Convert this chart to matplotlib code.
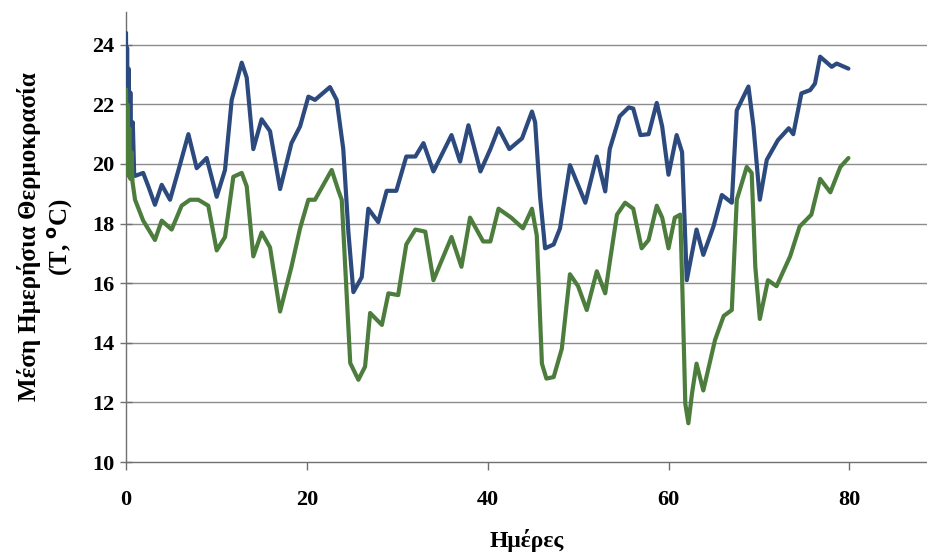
import matplotlib
matplotlib.use('Agg')
import matplotlib.pyplot as plt

# day, value
blueDays = [0, 0.06, 0.12, 0.2, 0.28, 0.38, 0.48, 0.6, 0.75, 0.9, 1.0, 1.9, 2.47, 3.2, 3.95, 4.87, 5.9, 6.9,
            7.82, 8.92, 10.03, 10.95, 11.69, 12.8, 13.35, 14.08, 15.0, 15.93, 17.04, 18.3,
            19.25, 20.17, 20.9, 22.56, 23.3, 24.03, 24.6, 25.15, 26.07, 26.8, 27.9, 28.83,
            29.9, 31.0, 32.0, 32.9, 34.0, 36.0, 36.95, 37.87, 39.2, 40.3, 41.2, 42.4,
            43.8, 44.9, 45.25, 45.8, 46.35, 47.3, 48.0, 49.1, 50.8, 52.07, 53.0, 53.5,
            54.6, 55.6, 56.1, 56.9, 57.8, 58.7, 59.3, 60.0, 60.9, 61.5, 62.02, 63.1,
            63.85, 64.97, 65.9, 67.0, 67.55, 68.84, 69.4, 70.1, 70.87, 72.1, 73.3, 73.8,
            74.7, 75.67, 76.2, 76.77, 78.05, 78.6, 79.9]
blueTemp = [24.4, 20.4, 23.9, 20.2, 23.2, 20.0, 22.4, 19.8, 21.4, 19.7, 19.6, 19.7, 19.25, 18.63, 19.3, 18.8, 19.9, 21.0,
            19.86, 20.2, 18.9, 19.8, 22.15, 23.4, 22.9, 20.5, 21.5, 21.1, 19.16, 20.7,
            21.26, 22.26, 22.15, 22.58, 22.15, 20.5, 17.7, 15.7, 16.2, 18.5, 18.05, 19.1,
            19.1, 20.25, 20.25, 20.7, 19.75, 20.97, 20.08, 21.3, 19.75, 20.5, 21.2, 20.5,
            20.86, 21.76, 21.4, 18.9, 17.17, 17.3, 17.84, 19.96, 18.7, 20.25, 19.08, 20.5,
            21.6, 21.9, 21.86, 20.97, 21.0, 22.05, 21.26, 19.64, 20.97, 20.4, 16.1, 17.8,
            16.95, 17.9, 18.96, 18.7, 21.8, 22.6, 21.26, 18.8, 20.14, 20.8, 21.2, 21.0,
            22.37, 22.48, 22.7, 23.6, 23.26, 23.37, 23.2]

greenDays = [0, 0.08, 0.16, 0.26, 0.36, 0.48, 0.6, 0.72, 1.0, 1.9, 3.2, 3.95, 5.05, 6.15, 7.08, 8.0, 9.1,
             10.03, 10.95, 11.87, 12.8, 13.35, 14.08, 15.0, 15.93, 17.04, 18.3, 19.25,
             20.17, 20.9, 22.75, 23.5, 23.86, 24.8, 25.7, 26.44, 27.0, 28.3, 29.02, 30.1,
             31.0, 32.0, 33.1, 34.0, 36.0, 37.1, 38.05, 39.5, 40.3, 41.2, 42.6, 43.9,
             44.9, 45.43, 46.0, 46.5, 47.3, 48.2, 49.1, 50.0, 50.96, 52.07, 53.0, 53.5,
             54.3, 55.2, 56.1, 57.03, 57.8, 58.7, 59.3, 60.0, 60.7, 61.3, 61.5, 61.86,
             62.2, 62.6, 63.1, 63.85, 65.15, 66.1, 67.0, 67.55, 68.65, 69.2, 69.6, 70.1,
             71.0, 71.95, 73.45, 74.5, 75.8, 76.77, 77.9, 79.0, 79.9]
greenTemp = [22.5, 19.7, 22.0, 19.6, 21.2, 19.5, 20.4, 19.4, 18.8, 18.1, 17.45, 18.1, 17.8, 18.6, 18.8, 18.8, 18.6,
             17.1, 17.55, 19.57, 19.7, 19.25, 16.9, 17.7, 17.2, 15.05, 16.55, 17.84,
             18.8, 18.8, 19.8, 19.1, 18.8, 13.32, 12.76, 13.2, 15.0, 14.6, 15.66, 15.6,
             17.3, 17.8, 17.73, 16.1, 17.55, 16.55, 18.2, 17.4, 17.4, 18.5, 18.2, 17.84,
             18.5, 17.6, 13.3, 12.8, 12.85, 13.8, 16.3, 15.9, 15.1, 16.4, 15.66, 16.7,
             18.3, 18.7, 18.5, 17.17, 17.45, 18.6, 18.2, 17.17, 18.2, 18.3, 16.2, 11.95,
             11.3, 12.3, 13.3, 12.4, 14.1, 14.9, 15.1, 18.8, 19.9, 19.7, 16.55, 14.8,
             16.1, 15.9, 16.9, 17.9, 18.3, 19.5, 19.05, 19.9, 20.2]

yTicks = [10, 12, 14, 16, 18, 20, 22, 24]
xTicks = [0, 20, 40, 60, 80]

plt.rcParams['font.family'] = ['Liberation Serif', 'DejaVu Serif']
plt.rcParams['font.weight'] = 'bold'

fig = plt.figure(figsize=(9.28, 5.59), dpi=100)
ax = fig.add_axes([126 / 928, 1 - 462 / 559, 1 - 126 / 928, 450 / 559])

for y in yTicks[1:]:
    ax.axhline(y, color='#8c8c8c', lw=1.0, zorder=1)

ax.plot(blueDays, blueTemp, color='#2c4a7e', lw=3.0, solid_joinstyle='round',
        solid_capstyle='round', zorder=3)
ax.plot(greenDays, greenTemp, color='#4c7d3d', lw=3.0, solid_joinstyle='round',
        solid_capstyle='round', zorder=4)

ax.set_xlim(0, 88.7)
ax.set_ylim(10, 25.1)
ax.set_yticks(yTicks)
ax.set_xticks(xTicks)

for side in ['top', 'right']:
    ax.spines[side].set_visible(False)
for side in ['left', 'bottom']:
    ax.spines[side].set_color('#707070')
    ax.spines[side].set_linewidth(1.0)

ax.tick_params(axis='y', direction='inout', length=9, width=1, color='#707070',
               labelsize=16, pad=4)
ax.tick_params(axis='x', direction='out', length=6, width=1, color='#707070',
               labelsize=16, pad=14)

ax.set_ylabel('Μέση Ημερήσια Θερμοκρασία\n(T, $^{\\mathbf{o}}$C)', fontsize=18,
              fontweight='bold', labelpad=12, linespacing=1.25)
ax.set_xlabel('Ημέρες', fontsize=17, fontweight='bold', labelpad=14)

fig.savefig('out.png', dpi=100)
